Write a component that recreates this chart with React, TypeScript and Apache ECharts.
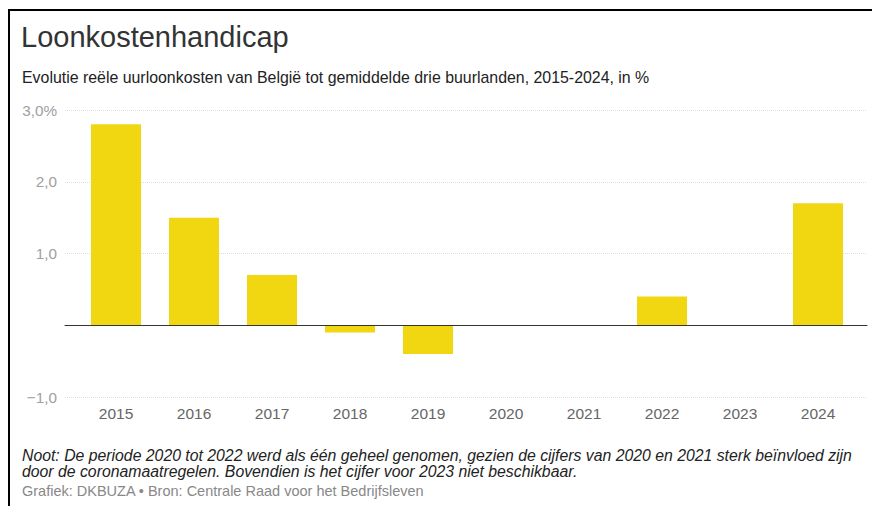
import React, { useEffect, useRef } from "react";
import * as echarts from "echarts";

const categories = ["2015", "2016", "2017", "2018", "2019", "2020", "2021", "2022", "2023", "2024"];
const values: (number | null)[] = [2.8, 1.5, 0.7, -0.1, -0.4, null, null, 0.4, null, 1.7];
const yMin = -1;
const yMax = 3;
const yInterval = 1;

const titleText = "Loonkostenhandicap";
const subtitleText = "Evolutie reële uurloonkosten van België tot gemiddelde drie buurlanden, 2015-2024, in %";
const noteText =
  "Noot: De periode 2020 tot 2022 werd als één geheel genomen, gezien de cijfers van 2020 en 2021 sterk beïnvloed zijn\ndoor de coronamaatregelen. Bovendien is het cijfer voor 2023 niet beschikbaar.";
const sourceText = "Grafiek: DKBUZA • Bron: Centrale Raad voor het Bedrijfsleven";

const FONT = "'Liberation Sans', Arial, Helvetica, sans-serif";

function fmtY(v: number): string {
  if (v === 0) return "";
  const s = Math.abs(v).toFixed(1).replace(".", ",");
  const sign = v < 0 ? "\u2212" : "";
  return v === yMax ? sign + s + "%" : sign + s;
}

export default function App() {
  const ref = useRef<HTMLDivElement>(null);
  useEffect(() => {
    if (!ref.current) return;
    const chart = echarts.init(ref.current, null, { renderer: "svg" });
    chart.setOption({
      animation: false,
      backgroundColor: "#ffffff",
      textStyle: { fontFamily: FONT },
      grid: [
        { left: 65, right: 5, top: 110, bottom: 109 },
        { left: 77, right: 15, top: 110, bottom: 109 },
      ],
      xAxis: [
        {
          gridIndex: 0,
          type: "value",
          min: 0,
          max: 1,
          z: 10,
          axisLine: { show: true, onZero: true, lineStyle: { color: "#333333", width: 1 } },
          axisTick: { show: false },
          axisLabel: { show: false },
          splitLine: { show: false },
        },
        {
          gridIndex: 1,
          type: "category",
          data: categories,
          axisLine: { show: false, onZero: false },
          axisTick: { show: false },
          axisLabel: { color: "#666666", fontSize: 15.5, margin: 8, fontFamily: FONT },
        },
      ],
      yAxis: [
        {
          gridIndex: 0,
          type: "value",
          min: yMin,
          max: yMax,
          interval: yInterval,
          axisLine: { show: false },
          axisTick: { show: false },
          axisLabel: {
            color: "#a0a0a0",
            fontSize: 15.3,
            margin: 8,
            fontFamily: FONT,
            formatter: (v: number) => fmtY(v),
          },
          splitLine: { show: true, lineStyle: { color: "#dddddd", type: "dotted", width: 1 } },
        },
        {
          gridIndex: 1,
          type: "value",
          min: yMin,
          max: yMax,
          interval: yInterval,
          axisLine: { show: false },
          axisTick: { show: false },
          axisLabel: { show: false },
          splitLine: { show: false },
        },
      ],
      series: [
        {
          type: "bar",
          xAxisIndex: 1,
          yAxisIndex: 1,
          data: values,
          barWidth: 50,
          itemStyle: { color: "#f1d711" },
        },
      ],
      graphic: [
        {
          type: "line",
          shape: { x1: 9, y1: 9, x2: 9, y2: 506 },
          style: { stroke: "#000000", lineWidth: 2 },
        },
        {
          type: "line",
          shape: { x1: 8, y1: 10, x2: 872, y2: 10 },
          style: { stroke: "#000000", lineWidth: 2 },
        },
        {
          type: "text",
          x: 21,
          y: 37,
          style: { text: titleText, fill: "#333333", fontSize: 29, fontFamily: FONT, verticalAlign: "middle" },
        },
        {
          type: "text",
          x: 22,
          y: 77,
          style: { text: subtitleText, fill: "#222222", fontSize: 15.9, fontFamily: FONT, verticalAlign: "middle" },
        },
        {
          type: "text",
          x: 22,
          y: 447,
          style: {
            text: noteText,
            fill: "#222222",
            fontSize: 15.8,
            lineHeight: 16,
            fontStyle: "italic",
            fontFamily: FONT,
            verticalAlign: "top",
          },
        },
        {
          type: "text",
          x: 22,
          y: 491,
          style: { text: sourceText, fill: "#888888", fontSize: 14.5, fontFamily: FONT, verticalAlign: "middle" },
        },
      ],
    });
    return () => chart.dispose();
  }, []);
  return (
    <div
      ref={ref}
      style={{ position: "absolute", left: 0, top: 0, width: 872, height: 506 }}
    />
  );
}
